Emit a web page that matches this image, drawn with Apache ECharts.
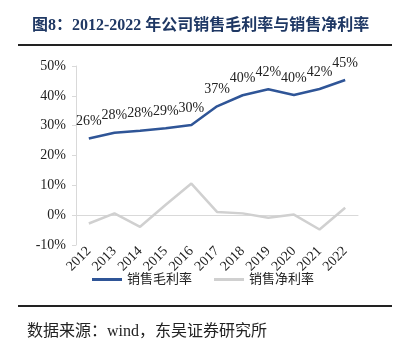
<!DOCTYPE html>
<html><head><meta charset="utf-8">
<script src="https://cdn.jsdelivr.net/npm/echarts@6/dist/echarts.min.js"></script>
<style>html,body{margin:0;padding:0;background:#fff}#c{width:406px;height:349px}</style>
</head><body><div id="c"></div>
<script>
var years = ['2012','2013','2014','2015','2016','2017','2018','2019','2020','2021','2022'];
var grossMargin = [25.7, 27.6, 28.3, 29.1, 30.2, 36.5, 40.2, 42.2, 40.3, 42.3, 45.3];
var grossLabels = ['26%','28%','28%','29%','30%','37%','40%','42%','40%','42%','45%'];
var netMargin = [-2.8, 0.6, -3.9, 3.5, 10.6, 1.1, 0.6, -0.9, 0.2, -4.8, 2.5];
var yTicks = [-10, 0, 10, 20, 30, 40, 50];

var serif = '"Times New Roman","Liberation Serif","Noto Sans CJK SC",serif';
var chart = echarts.init(document.getElementById('c'));
chart.setOption({
  animation: false,
  backgroundColor: '#fff',
  title: {
    text: '图8：2012-2022 年公司销售毛利率与销售净利率',
    left: 27, top: 13,
    textStyle: {fontFamily: serif, fontSize: 16, fontWeight: 'bold', color: '#1f3864'}
  },
  graphic: [
    {type: 'line', shape: {x1: 18, y1: 45, x2: 392, y2: 45}, style: {stroke: '#222', lineWidth: 2}},
    {type: 'line', shape: {x1: 18, y1: 306, x2: 392, y2: 306}, style: {stroke: '#222', lineWidth: 2}},
    {type: 'text', left: 27, top: 324, style: {text: '数据来源：wind，东吴证券研究所', font: '16px ' + serif, fill: '#222'}}
  ],
  legend: {
    top: 268, left: 'center',
    itemWidth: 30, itemHeight: 3, itemGap: 22,
    icon: 'rect',
    textStyle: {fontFamily: serif, fontSize: 13, color: '#222'},
    data: ['销售毛利率', '销售净利率']
  },
  grid: {left: 76, right: 48, top: 66, bottom: 104},
  xAxis: {
    type: 'category', data: years, boundaryGap: true,
    axisLine: {onZero: true, lineStyle: {color: '#d9d9d9'}},
    axisTick: {show: false},
    axisLabel: {rotate: 45, fontFamily: serif, fontSize: 14, color: '#222', margin: 4, interval: 0}
  },
  yAxis: {
    type: 'value', min: yTicks[0], max: yTicks[yTicks.length - 1], interval: 10,
    axisLine: {show: true, lineStyle: {color: '#d9d9d9'}},
    axisTick: {show: true, length: 4, lineStyle: {color: '#d9d9d9'}},
    splitLine: {show: false},
    axisLabel: {formatter: '{value}%', fontFamily: serif, fontSize: 14, color: '#222', margin: 10}
  },
  series: [
    {
      name: '销售毛利率', type: 'line', data: grossMargin, symbol: 'circle', symbolSize: 0, showSymbol: true,
      lineStyle: {color: '#2f5597', width: 2.5}, itemStyle: {color: '#2f5597'},
      label: {show: true, position: 'top', distance: 10, fontFamily: serif, fontSize: 14, color: '#222',
        formatter: function (p) { return grossLabels[p.dataIndex]; }}
    },
    {
      name: '销售净利率', type: 'line', data: netMargin, symbol: 'none',
      lineStyle: {color: '#d0d0d0', width: 2.5}, itemStyle: {color: '#d0d0d0'}
    }
  ]
});
</script></body></html>
